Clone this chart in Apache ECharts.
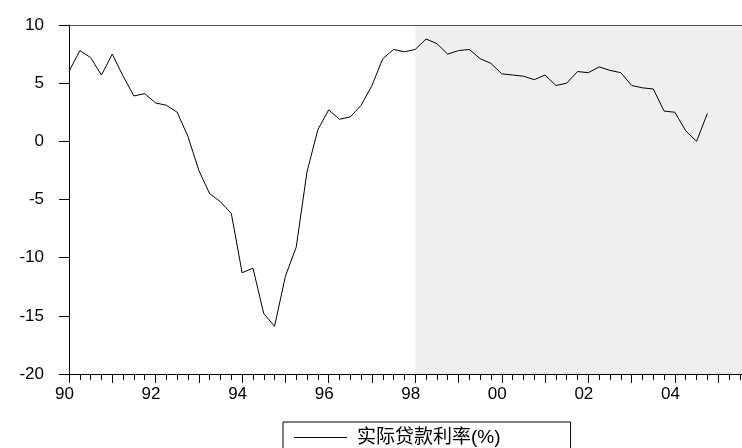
<!DOCTYPE html>
<html>
<head>
<meta charset="utf-8">
<script src="https://cdn.jsdelivr.net/npm/echarts@6/dist/echarts.min.js"></script>
<style>
html,body{margin:0;padding:0;background:#fff;}
#chart{width:742px;height:448px;}
</style>
</head>
<body>
<div id="chart"></div>
<script>
// Quarterly observations 1990Q1 .. 2004Q4
const years = [1990,1991,1992,1993,1994,1995,1996,1997,1998,1999,2000,2001,2002,2003,2004];
const quarterNames = ['Q1','Q2','Q3','Q4'];
const seriesName = '实际贷款利率(%)';
const realLendingRate = [
  6.0, 7.8, 7.2, 5.7, 7.5, 5.6, 3.9, 4.1, 3.3, 3.1,
  2.5, 0.4, -2.5, -4.5, -5.2, -6.2, -11.3, -10.9, -14.8, -15.9,
  -11.6, -9.1, -2.6, 1.0, 2.7, 1.9, 2.1, 3.1, 4.8, 7.1,
  7.9, 7.7, 7.9, 8.8, 8.4, 7.5, 7.8, 7.9, 7.1, 6.7,
  5.8, 5.7, 5.6, 5.3, 5.7, 4.8, 5.0, 6.0, 5.9, 6.4,
  6.1, 5.9, 4.8, 4.6, 4.5, 2.6, 2.5, 0.9, 0.0, 2.4
];
const yTicks = [-20, -15, -10, -5, 0, 5, 10];
const xLabelYears = [1990, 1992, 1994, 1996, 1998, 2000, 2002, 2004];
const shadeStart = 1998;

const xMin = 1990, xMax = 2005.55;

const periods = [];
years.forEach(y => quarterNames.forEach((q, qi) => periods.push({ label: y + q, t: y + qi / 4 })));
const lineData = realLendingRate.map((v, i) => [periods[i].t, v]);

const font = 'Liberation Sans, Arial, Helvetica, sans-serif';
const chart = echarts.init(document.getElementById('chart'), null, { renderer: 'canvas' });
chart.setOption({
  animation: false,
  backgroundColor: '#ffffff',
  grid: { left: 69, top: 25, right: 0, bottom: 74, containLabel: false },
  legend: {
    show: true,
    left: 283, top: 422,
    orient: 'horizontal',
    data: [{ name: seriesName, icon: 'rect' }],
    itemWidth: 53, itemHeight: 1,
    borderColor: '#000', borderWidth: 1, borderRadius: 0,
    padding: [6, 70, 6, 11],
    selectedMode: false,
    textStyle: { fontSize: 19, color: '#000', fontFamily: 'Liberation Sans, Noto Sans CJK SC, sans-serif', padding: [0, 0, 0, 5], lineHeight: 19 }
  },
  xAxis: [
    {
      type: 'value', position: 'bottom', min: xMin, max: xMax, interval: 1, z: 5,
      axisLine: { show: true, onZero: false, lineStyle: { color: '#000', width: 1 } },
      axisTick: { show: true, inside: false, length: 9, lineStyle: { color: '#000', width: 1 } },
      splitLine: { show: false },
      axisLabel: {
        show: true, margin: 12, fontSize: 17, color: '#000', fontFamily: font,
        padding: [0, 9, 0, 0],
        showMaxLabel: false,
        formatter: v => xLabelYears.indexOf(Math.round(v * 100) / 100) >= 0 ? String(v % 100).padStart(2, '0') : ''
      }
    },
    {
      type: 'value', position: 'bottom', min: xMin, max: xMax, interval: 0.25, z: 5,
      axisLine: { show: false, onZero: false },
      axisTick: { show: true, inside: false, length: 6, lineStyle: { color: '#000', width: 1 } },
      splitLine: { show: false },
      axisLabel: { show: false }
    },
    {
      type: 'value', position: 'top', min: xMin, max: xMax, z: 5,
      axisLine: { show: true, onZero: false, lineStyle: { color: '#555', width: 1 } },
      axisTick: { show: false }, axisLabel: { show: false }, splitLine: { show: false }
    }
  ],
  yAxis: {
    type: 'value', min: yTicks[0], max: yTicks[yTicks.length - 1], interval: 5, z: 5,
    axisLine: { show: true, onZero: false, lineStyle: { color: '#000', width: 1 } },
    axisTick: { show: true, inside: false, length: 10, lineStyle: { color: '#000', width: 1 } },
    splitLine: { show: false },
    axisLabel: { show: true, margin: 25, fontSize: 17, color: '#000', fontFamily: font }
  },
  series: [{
    name: seriesName,
    type: 'line',
    xAxisIndex: 0,
    data: lineData,
    showSymbol: false,
    symbol: 'none',
    lineStyle: { color: '#000', width: 1 },
    itemStyle: { color: '#000' },
    z: 3,
    markArea: {
      silent: true,
      z: 1,
      itemStyle: { color: '#efefef' },
      data: [[{ xAxis: shadeStart }, { xAxis: xMax }]]
    }
  }]
});
</script>
</body>
</html>
